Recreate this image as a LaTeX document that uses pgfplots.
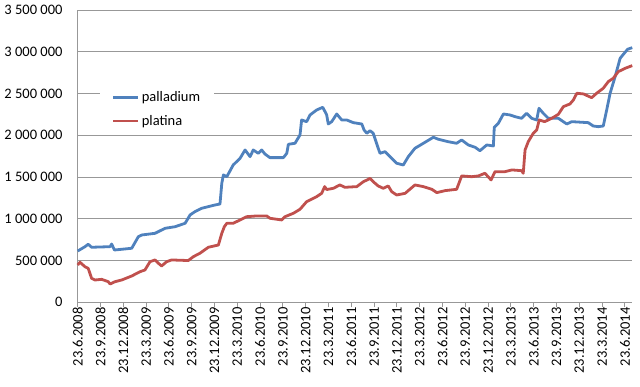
\documentclass[border=0pt]{standalone}
\usepackage{fontspec}
\setmainfont{Carlito}
\usepackage{pgfplots}
\pgfplotsset{compat=1.18}
\usepackage{pgfplotstable}
\definecolor{pblue}{HTML}{4F81BD}
\definecolor{pred}{HTML}{C0504D}
\definecolor{gridg}{HTML}{989898}

% x = quarters since 23.6.2008
\pgfplotstableread{
q val
0.00 614000
0.32 666000
0.46 695000
0.61 659000
1.42 666000
1.49 698000
1.61 626000
2.37 647000
2.66 786000
2.81 806000
3.39 826000
3.83 886000
4.27 905000
4.71 946000
4.93 1046000
5.14 1085000
5.44 1126000
6.02 1165000
6.24 1177000
6.32 1425000
6.39 1525000
6.54 1504000
6.82 1644000
7.12 1724000
7.34 1824000
7.56 1744000
7.70 1824000
7.92 1784000
8.07 1824000
8.21 1776000
8.43 1732000
9.02 1732000
9.17 1784000
9.24 1892000
9.53 1904000
9.75 2004000
9.82 2183000
10.04 2163000
10.19 2243000
10.48 2303000
10.75 2335000
10.92 2243000
10.99 2135000
11.14 2163000
11.36 2255000
11.58 2183000
11.80 2183000
12.09 2151000
12.46 2135000
12.56 2063000
12.68 2024000
12.82 2055000
12.96 2024000
13.18 1844000
13.26 1784000
13.48 1804000
13.70 1744000
13.99 1665000
14.28 1644000
14.50 1744000
14.79 1844000
15.16 1904000
15.60 1976000
15.82 1952000
16.25 1923000
16.62 1904000
16.84 1944000
17.13 1884000
17.43 1856000
17.64 1815000
17.94 1884000
18.23 1872000
18.27 2096000
18.45 2144000
18.67 2255000
18.96 2243000
19.18 2223000
19.47 2203000
19.69 2263000
19.91 2203000
20.13 2183000
20.23 2323000
20.42 2263000
20.64 2203000
21.08 2203000
21.45 2135000
21.67 2163000
22.39 2151000
22.61 2111000
22.83 2103000
23.05 2111000
23.20 2303000
23.35 2503000
23.57 2702000
23.79 2922000
23.97 2982000
24.12 3030000
24.32 3049000
}\palladium

\pgfplotstableread{
q val
0.00 447000
0.10 479000
0.32 426000
0.46 407000
0.61 287000
0.76 267000
1.05 275000
1.34 247000
1.42 219000
1.64 247000
1.93 267000
2.37 315000
2.73 366000
2.95 387000
3.17 486000
3.39 507000
3.54 467000
3.68 435000
3.90 486000
4.12 507000
4.85 500000
5.07 546000
5.36 587000
5.73 659000
6.17 686000
6.32 826000
6.43 905000
6.54 946000
6.82 946000
7.12 986000
7.41 1025000
7.85 1034000
8.29 1034000
8.43 1006000
8.95 986000
9.09 1025000
9.46 1066000
9.75 1114000
10.04 1205000
10.48 1265000
10.70 1305000
10.83 1385000
10.92 1350000
11.21 1365000
11.50 1405000
11.72 1377000
12.24 1385000
12.53 1444000
12.75 1473000
12.82 1485000
12.96 1444000
13.18 1393000
13.40 1365000
13.62 1393000
13.77 1325000
13.99 1285000
14.36 1305000
14.79 1405000
15.16 1385000
15.53 1353000
15.75 1313000
16.11 1337000
16.62 1353000
16.84 1513000
17.28 1504000
17.57 1513000
17.86 1545000
18.13 1465000
18.30 1564000
18.74 1564000
19.04 1585000
19.47 1576000
19.54 1545000
19.62 1824000
19.76 1923000
19.98 2024000
20.13 2063000
20.24 2183000
20.48 2163000
20.79 2203000
21.08 2251000
21.30 2343000
21.59 2375000
21.74 2423000
21.89 2503000
22.18 2495000
22.54 2450000
22.76 2503000
23.05 2563000
23.27 2642000
23.49 2683000
23.71 2762000
24.01 2802000
24.32 2834000
}\platina

\begin{document}
\begin{tikzpicture}
\begin{axis}[
  scale only axis,
  width=554.3pt, height=292.3pt,
  xmin=0, xmax=24.31,
  ymin=0, ymax=3500000,
  axis x line*=bottom, axis y line*=left,
  axis line style={draw=gridg, line width=0.9pt, -},
  ymajorgrids, grid style={draw=gridg, line width=0.9pt},
  scaled y ticks=false,
  xtick={0,...,24},
  xticklabels={23.6.2008,23.9.2008,23.12.2008,23.3.2009,23.6.2009,23.9.2009,23.12.2009,23.3.2010,23.6.2010,23.9.2010,23.12.2010,23.3.2011,23.6.2011,23.9.2011,23.12.2011,23.3.2012,23.6.2012,23.9.2012,23.12.2012,23.3.2013,23.6.2013,23.9.2013,23.12.2013,23.3.2014,23.6.2014},
  ytick={0,500000,1000000,1500000,2000000,2500000,3000000,3500000},
  yticklabels={0,500 000,1 000 000,1 500 000,2 000 000,2 500 000,3 000 000,3 500 000},
  tick align=outside, major tick length=5pt,
  xtick style={draw=gridg, line width=0.9pt},
  ytick style={draw=none},
  x tick label style={rotate=90, anchor=east, font=\fontsize{14.5}{16}\selectfont, inner sep=0pt},
  y tick label style={anchor=east, font=\fontsize{14.5}{16}\selectfont, inner sep=0pt, xshift=-10pt},
  legend style={at={(rel axis cs:0.040,0.745)}, anchor=north west, draw=none, fill=white,
    font=\fontsize{14.5}{16}\selectfont, inner xsep=12pt, inner ysep=5pt,
    row sep=8pt, cells={anchor=west}},
  legend image code/.code={\draw[#1, line width=2.8pt] (0pt,0pt) -- (25pt,0pt);},
  clip=false,
]
\coordinate (bl) at (rel axis cs:0,0);
\addplot[pblue, line width=2.8pt, line join=round] table[x=q, y=val] {\palladium};
\addlegendentry{palladium}
\addplot[pred, line width=2.8pt, line join=round] table[x=q, y=val] {\platina};
\addlegendentry{platina}
\end{axis}
\pgfresetboundingbox
\path[use as bounding box] (bl) ++(-77.7pt,-84.7pt) rectangle ++(640pt,387pt);
\end{tikzpicture}
\end{document}
